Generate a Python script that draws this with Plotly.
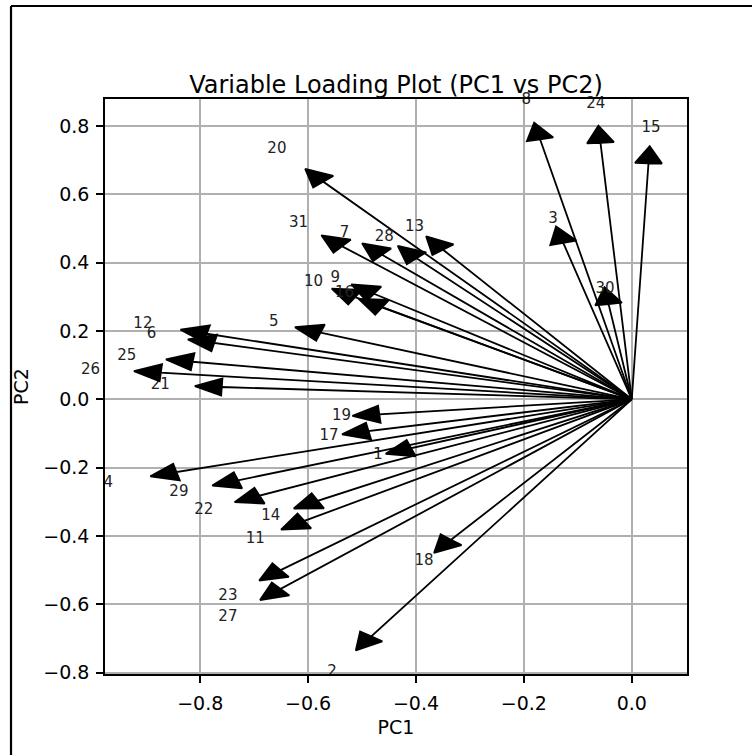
import plotly.graph_objects as go

# ---- data (loadings) ----
variables = [str(i) for i in range(1, 32)]
pc1 = [-0.409, -0.483, -0.127, -0.844, -0.577, -0.774, -0.463, -0.170, -0.478, -0.513,
       -0.607, -0.788, -0.350, -0.582, 0.031, -0.463, -0.488, -0.335, -0.468, -0.572,
       -0.760, -0.690, -0.651, -0.058, -0.814, -0.873, -0.651, -0.399, -0.730, -0.043,
       -0.537]
pc2 = [-0.143, -0.694, 0.458, -0.213, 0.195, 0.165, 0.423, 0.761, 0.309, 0.299,
       -0.356, 0.192, 0.438, -0.297, 0.691, 0.269, -0.093, -0.411, -0.044, 0.637,
       0.036, -0.282, -0.500, 0.751, 0.110, 0.078, -0.555, 0.413, -0.237, 0.279,
       0.448]
x_tickvals = [-0.8, -0.6, -0.4, -0.2, 0.0]
x_ticktext = ["\u22120.8", "\u22120.6", "\u22120.4", "\u22120.2", "0.0"]
y_tickvals = [-0.8, -0.6, -0.4, -0.2, 0.0, 0.2, 0.4, 0.6, 0.8]
y_ticktext = ["\u22120.8", "\u22120.6", "\u22120.4", "\u22120.2", "0.0", "0.2", "0.4", "0.6", "0.8"]

# ---- style constants ----
HEAD_W = 0.05
HEAD_L = 0.05
LABEL_SCALE = 1.15
FONT = "DejaVu Sans"
X_RANGE = [-0.9765, 0.1024]
Y_RANGE = [-0.804, 0.879]
label_font = dict(family=FONT, size=15, color="#222222")

fig = go.Figure()
outside_labels = []
for name, x, y in zip(variables, pc1, pc2):
    n = (x * x + y * y) ** 0.5
    dx, dy = x / n, y / n
    px_, py_ = -dy, dx
    tip = (x + HEAD_L * dx, y + HEAD_L * dy)
    bl = (x + HEAD_W / 2 * px_, y + HEAD_W / 2 * py_)
    br = (x - HEAD_W / 2 * px_, y - HEAD_W / 2 * py_)
    fig.add_trace(go.Scatter(
        x=[0, x, bl[0], tip[0], br[0], x, 0],
        y=[0, y, bl[1], tip[1], br[1], y, 0],
        mode="lines", fill="toself", fillcolor="black",
        line=dict(color="black", width=1.8),
        hoverinfo="skip", showlegend=False))
    lx, ly = x * LABEL_SCALE, y * LABEL_SCALE
    if X_RANGE[0] <= lx <= X_RANGE[1] and Y_RANGE[0] <= ly <= Y_RANGE[1]:
        fig.add_trace(go.Scatter(
            x=[lx], y=[ly], mode="text", text=[name],
            textposition="middle center", cliponaxis=False,
            textfont=label_font, hoverinfo="skip", showlegend=False))
    else:
        # labels beyond the axes (matplotlib does not clip text): place in paper coords
        outside_labels.append(dict(
            x=(lx - X_RANGE[0]) / (X_RANGE[1] - X_RANGE[0]),
            y=(ly - Y_RANGE[0]) / (Y_RANGE[1] - Y_RANGE[0]),
            xref="paper", yref="paper", text=name,
            showarrow=False, xanchor="center", yanchor="middle",
            font=label_font))

axis_common = dict(
    showgrid=True, gridcolor="#b0b0b0", gridwidth=1.5, zeroline=False,
    showline=True, mirror=True, linecolor="black", linewidth=1.5,
    ticks="outside", ticklen=7, tickwidth=1.5, tickcolor="black",
    tickfont=dict(family=FONT, size=19, color="black"),
)

fig.update_layout(
    width=752, height=755, autosize=False,
    margin=dict(l=105, r=65, t=99, b=81),
    paper_bgcolor="white", plot_bgcolor="white",
    title=dict(text="Variable Loading Plot (PC1 vs PC2)", x=0.5, xref="paper",
               y=1, yref="paper", yanchor="bottom", xanchor="center",
               pad=dict(b=6, t=0, l=0, r=0),
               font=dict(family=FONT, size=24, color="black")),
    xaxis=dict(range=X_RANGE, tickvals=x_tickvals, ticktext=x_ticktext,
               ticklabelstandoff=4,
               title=dict(text="PC1", standoff=8, font=dict(family=FONT, size=19, color="black")),
               **axis_common),
    yaxis=dict(range=Y_RANGE, tickvals=y_tickvals, ticktext=y_ticktext,
               ticklabelstandoff=3,
               title=dict(text="PC2", standoff=10, font=dict(family=FONT, size=19, color="black")),
               **axis_common),
    annotations=outside_labels,
    shapes=[
        dict(type="line", xref="paper", yref="paper", x0=-0.1615, x1=-0.1615, y0=1.1617, y1=-0.2,
             line=dict(color="black", width=2.2)),
        dict(type="line", xref="paper", yref="paper", x0=-0.1615, x1=1.2, y0=1.1617, y1=1.1617,
             line=dict(color="black", width=2.2)),
    ],
)

fig.write_html("out.html", config={"displayModeBar": False},
               post_script="document.body.style.margin='0';document.body.style.overflow='hidden';")
